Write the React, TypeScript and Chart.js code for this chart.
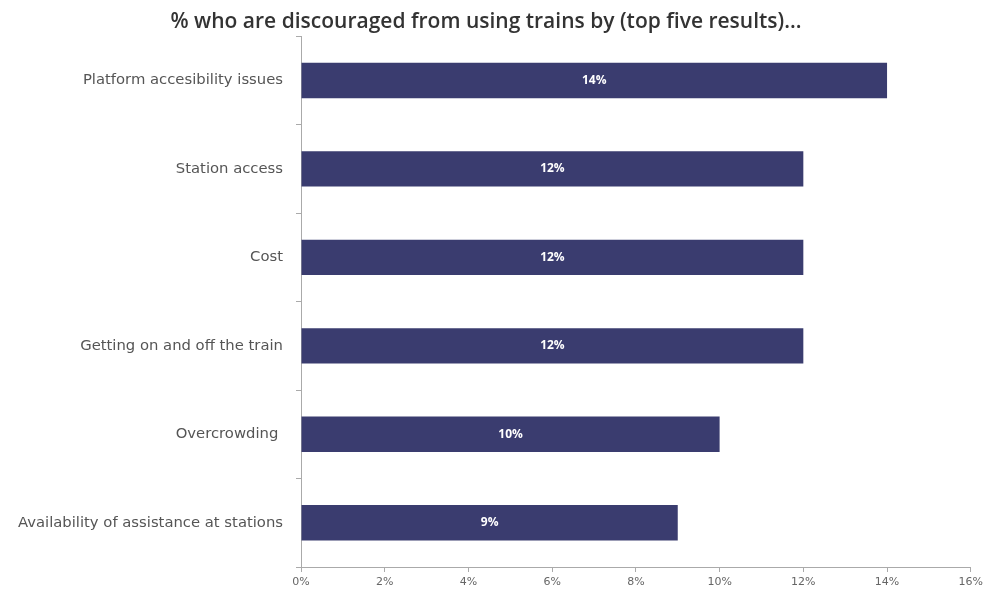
import React, { useEffect, useRef } from "react";
import { Chart, registerables } from "chart.js";

Chart.register(...registerables);

const categories = [
  "Platform accesibility issues",
  "Station access",
  "Cost",
  "Getting on and off the train",
  "Overcrowding ",
  "Availability of assistance at stations",
];
const values = [14, 12, 12, 12, 10, 9];
const xTicks = [0, 2, 4, 6, 8, 10, 12, 14, 16];
const titleText = "% who are discouraged from using trains by (top five results)...";

const barColor = "#3a3c6f";

const valueLabels = {
  id: "valueLabels",
  afterDatasetsDraw(chart: any) {
    const ctx = chart.ctx;
    const meta = chart.getDatasetMeta(0);
    ctx.save();
    ctx.fillStyle = "#ffffff";
    ctx.font = "bold 12px 'Open Sans'";
    ctx.textAlign = "center";
    ctx.textBaseline = "middle";
    meta.data.forEach((bar: any, i: number) => {
      const cx = (bar.base + bar.x) / 2;
      ctx.fillText(values[i] + "%", cx, bar.y);
    });
    ctx.restore();
  },
};

export default function App() {
  const ref = useRef<HTMLCanvasElement | null>(null);
  useEffect(() => {
    if (!ref.current) return;
    const chart = new Chart(ref.current, {
      type: "bar",
      data: {
        labels: categories,
        datasets: [
          {
            data: values,
            backgroundColor: barColor,
            categoryPercentage: 1,
            barPercentage: 0.4,
          },
        ],
      },
      options: {
        indexAxis: "y",
        animation: false,
        responsive: false,
        maintainAspectRatio: false,
        layout: { padding: { left: 0, right: 15, top: 0, bottom: 0 } },
        plugins: {
          legend: { display: false },
          tooltip: { enabled: false },
          title: {
            display: true,
            text: titleText,
            color: "#333333",
            font: { family: "'Open Sans'", size: 21, weight: "600" },
            padding: { top: 9, bottom: 2 },
          },
        },
        scales: {
          x: {
            min: 0,
            max: 16,
            afterFit(scale: any) {
              scale.height = 25;
            },
            afterBuildTicks(scale: any) {
              scale.ticks = xTicks.map((v) => ({ value: v }));
            },
            ticks: {
              color: "#666666",
              font: { family: "'DejaVu Sans'", size: 11 },
              padding: 4,
              maxRotation: 0,
              callback: (v: any) => v + "%",
            },
            grid: {
              display: true,
              drawOnChartArea: false,
              tickLength: 5,
              color: "#aaaaaa",
            },
            border: { display: true, color: "#aaaaaa", width: 1 },
          },
          y: {
            afterFit(scale: any) {
              scale.width = 301;
            },
            ticks: {
              color: "#555555",
              font: { family: "'DejaVu Sans'", size: 14.8 },
              padding: 13,
            },
            grid: {
              display: true,
              drawOnChartArea: false,
              tickLength: 5,
              color: "#aaaaaa",
              offset: true,
            },
            border: { display: true, color: "#aaaaaa", width: 1 },
          },
        },
      },
      plugins: [valueLabels],
    });
    return () => chart.destroy();
  }, []);
  return (
    <div style={{ position: "fixed", left: 0, top: 0, width: 987, height: 592, background: "#fff" }}>
      <canvas ref={ref} width={987} height={592} style={{ display: "block" }} />
    </div>
  );
}
